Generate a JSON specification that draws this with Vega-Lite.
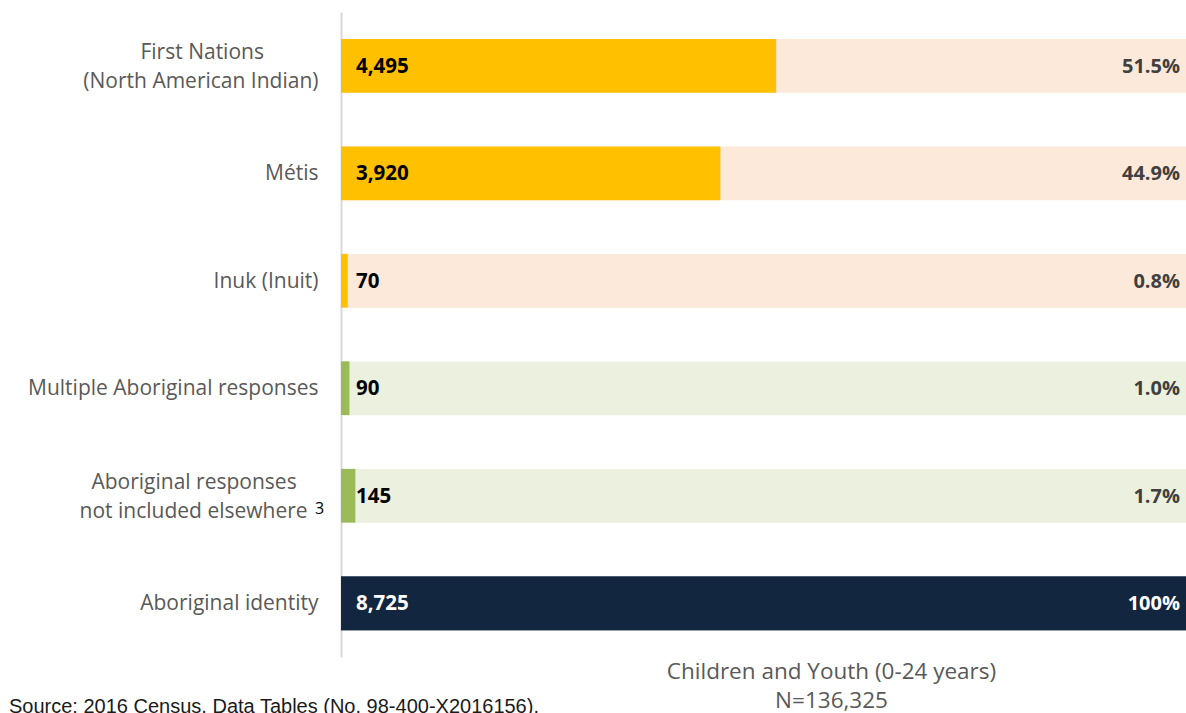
{
  "$schema": "https://vega.github.io/schema/vega-lite/v6.json",
  "autosize": "none",
  "width": 845,
  "height": 645,
  "padding": {"left": 341, "top": 12, "right": 0, "bottom": 56},
  "background": "white",
  "config": {"view": {"stroke": null}},
  "title": {
    "text": "Source: 2016 Census, Data Tables (No. 98-400-X2016156).",
    "orient": "bottom",
    "anchor": "start",
    "frame": "group",
    "font": "Liberation Sans",
    "fontSize": 20,
    "fontWeight": "normal",
    "color": "#1a1a1a",
    "baseline": "alphabetic",
    "dx": -332,
    "dy": 1,
    "offset": 0
  },
  "data": {
    "values": [
      {"category": "First Nations (North American Indian)", "count": "4,495", "pct": 51.5, "pctLabel": "51.5%", "grp": "Identity"},
      {"category": "Métis", "count": "3,920", "pct": 44.9, "pctLabel": "44.9%", "grp": "Identity"},
      {"category": "Inuk (Inuit)", "count": "70", "pct": 0.8, "pctLabel": "0.8%", "grp": "Identity"},
      {"category": "Multiple Aboriginal responses", "count": "90", "pct": 1.0, "pctLabel": "1.0%", "grp": "Other"},
      {"category": "Aboriginal responses not included elsewhere", "count": "145", "pct": 1.7, "pctLabel": "1.7%", "grp": "Other"},
      {"category": "Aboriginal identity", "count": "8,725", "pct": 100, "pctLabel": "100%", "grp": "Total"}
    ]
  },
  "encoding": {
    "y": {
      "field": "category",
      "type": "nominal",
      "sort": null,
      "scale": {"paddingInner": 0.5, "paddingOuter": 0.25},
      "axis": {
        "title": null,
        "ticks": false,
        "domainColor": "#d9d9d9",
        "domainWidth": 2,
        "labelFont": "Open Sans",
        "labelFontSize": 21,
        "labelColor": "#595959",
        "labelPadding": 23,
        "labelLineHeight": 29,
        "labelLimit": 400,
        "labelOffset": {"condition": {"test": "length(datum.value) > 36", "value": -13}, "value": 1},
        "labelExpr": "datum.value === 'First Nations (North American Indian)' ? ['First Nations\u00a0\u00a0\u00a0\u00a0\u00a0\u00a0\u00a0\u00a0\u00a0\u00a0\u200b', '(North American Indian)'] : datum.value === 'Aboriginal responses not included elsewhere' ? ['Aboriginal responses\u00a0\u00a0\u00a0\u00a0\u200b', 'not included elsewhere\u00a0\u00a0\u200b'] : datum.value"
      }
    }
  },
  "layer": [
    {
      "mark": {"type": "bar"},
      "encoding": {
        "x": {
          "datum": 0,
          "type": "quantitative",
          "scale": {"domain": [0, 100], "nice": false},
          "axis": {
            "title": ["Children and Youth (0-24 years)", "N=136,325"],
            "domain": false,
            "ticks": false,
            "labels": false,
            "grid": false,
            "titleFont": "Open Sans",
            "titleFontSize": 22.5,
            "titleFontWeight": "normal",
            "titleColor": "#595959",
            "titleLineHeight": 29,
            "titleX": 490,
            "titleY": 3,
            "titleAlign": "center",
            "titleBaseline": "top"
          }
        },
        "x2": {"datum": 100},
        "color": {
          "field": "grp",
          "type": "nominal",
          "scale": {"domain": ["Identity", "Other", "Total"], "range": ["#fde9d9", "#ebf1de", "#132640"]},
          "legend": null
        }
      }
    },
    {
      "mark": {"type": "bar"},
      "encoding": {
        "x": {"field": "pct", "type": "quantitative"},
        "x2": {"datum": 0},
        "color": {
          "field": "grp",
          "type": "nominal",
          "scale": {"domain": ["Identity", "Other", "Total"], "range": ["#ffc000", "#9bbb59", "#132640"]},
          "legend": null
        }
      }
    },
    {
      "mark": {"type": "text", "align": "left", "baseline": "middle", "dx": 15, "dy": 1, "font": "Open Sans", "fontSize": 20.5, "fontWeight": "bold"},
      "encoding": {
        "x": {"datum": 0},
        "text": {"field": "count"},
        "color": {"condition": {"test": "datum.grp === 'Total'", "value": "white"}, "value": "black"}
      }
    },
    {
      "mark": {"type": "text", "align": "right", "baseline": "middle", "dx": -6, "dy": 1, "font": "Open Sans", "fontSize": 20, "fontWeight": "bold"},
      "encoding": {
        "x": {"datum": 100},
        "text": {"field": "pctLabel"},
        "color": {"condition": {"test": "datum.grp === 'Total'", "value": "white"}, "value": "#404040"}
      }
    },
    {
      "transform": [{"filter": "datum.category === 'Aboriginal responses not included elsewhere'"}],
      "mark": {"type": "text", "align": "left", "baseline": "alphabetic", "dx": -26, "dy": 18, "font": "Open Sans", "fontSize": 16, "color": "black", "text": "3"},
      "encoding": {
        "x": {"datum": 0}
      }
    }
  ],
  "resolve": {"scale": {"color": "independent"}}
}
